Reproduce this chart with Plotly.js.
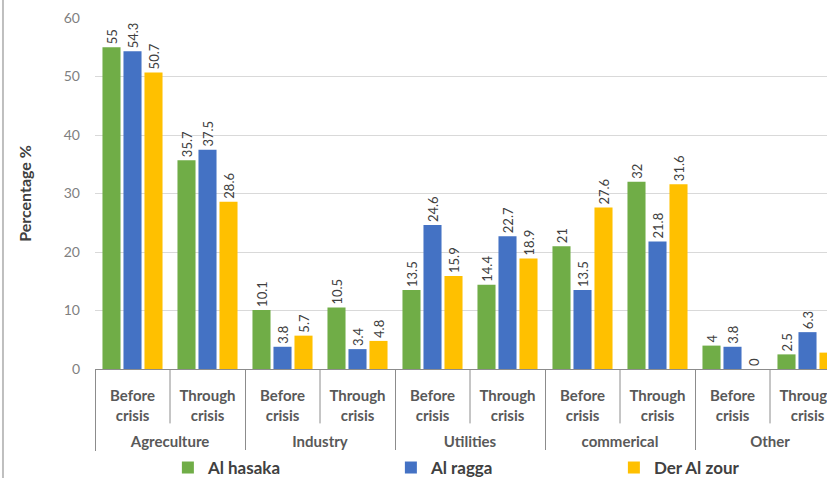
<!DOCTYPE html>
<html>
<head>
<meta charset="utf-8">
<script src="https://cdn.plot.ly/plotly-3.0.1.min.js"></script>
<style>
  html, body { margin: 0; padding: 0; background: #fff; }
  #chart { width: 827px; height: 478px; }
</style>
</head>
<body>
<div id="chart"></div>
<script>
// Sectors and periods (two-level category axis)
const sectors = ["Agreculture", "Industry", "Utilities", "commerical", "Other"];
const periods = ["Before<br>crisis", "Through<br>crisis"];

// Share of workforce by sector, percent
const alHasaka   = [55, 35.7, 10.1, 10.5, 13.5, 14.4, 21, 32, 4, 2.5];
const alRagga    = [54.3, 37.5, 3.8, 3.4, 24.6, 22.7, 13.5, 21.8, 3.8, 6.3];
const derAlZour  = [50.7, 28.6, 5.7, 4.8, 15.9, 18.9, 27.6, 31.6, 0, 2.8];

const seriesNames  = ["Al hasaka", "Al ragga", "Der Al zour"];
const seriesColors = ["#70AD47", "#4472C4", "#FFC000"];

// Build the two-level x coordinates; sector names sit one line lower
const xOuter = [], xInner = [];
sectors.forEach(s => periods.forEach(p => { xOuter.push("<br>" + s); xInner.push(p); }));

const font = "Lato, 'Open Sans', sans-serif";

const traces = [alHasaka, alRagga, derAlZour].map((vals, i) => ({
  type: "bar",
  name: seriesNames[i],
  x: [xOuter, xInner],
  y: vals,
  marker: { color: seriesColors[i] },
  text: vals.map(v => String(v)),
  textposition: "outside",
  textangle: -90,
  constraintext: "none",
  cliponaxis: false,
  textfont: { family: font, size: 13, color: "#404040" },
  hoverinfo: "skip"
}));

// Boundary lines between the period labels under the axis
const nCats = xOuter.length;
const shapes = [];
for (let k = 0; k < nCats - 1; k += 2) {
  shapes.push({
    type: "line", xref: "x", yref: "paper",
    x0: k + 0.5, x1: k + 0.5, y0: 0, y1: -0.155,
    line: { color: "#8c8c8c", width: 1 }
  });
}
// Frame line along the left edge
shapes.push({
  type: "line", xref: "paper", yref: "paper",
  x0: -0.1257, x1: -0.1257, y0: -0.32, y1: 1.06,
  line: { color: "#bfbfbf", width: 2 }
});

const layout = {
  width: 827,
  height: 478,
  margin: { l: 95, r: 0, t: 18, b: 109 },
  paper_bgcolor: "#ffffff",
  plot_bgcolor: "#ffffff",
  barmode: "group",
  bargap: 0.16,
  bargroupgap: 0.14,
  showlegend: true,
  legend: {
    orientation: "h",
    xref: "container", yref: "container",
    x: 0.203, xanchor: "left",
    y: 0.021, yanchor: "middle",
    entrywidth: 178, entrywidthmode: "pixels",
    font: { family: font, size: 17, color: "#404040", weight: "bold" },
    itemwidth: 30,
    tracegroupgap: 0
  },
  xaxis: {
    type: "multicategory",
    range: [-0.5, 9.26],
    automargin: false,
    showline: true,
    linecolor: "#8c8c8c",
    linewidth: 1,
    ticks: "",
    ticklabelstandoff: 13,
    showdividers: true,
    dividercolor: "#8c8c8c",
    dividerwidth: 1,
    tickfont: { family: font, size: 15, color: "#595959", weight: "bold" },
    showgrid: false,
    zeroline: false,
    fixedrange: true
  },
  yaxis: {
    range: [0, 60],
    dtick: 10,
    automargin: true,
    showgrid: true,
    gridcolor: "#d9d9d9",
    gridwidth: 1,
    zeroline: false,
    showline: false,
    ticks: "",
    ticklabelstandoff: 14,
    tickfont: { family: font, size: 14, color: "#7f7f7f" },
    title: { text: "Percentage %", font: { family: font, size: 16, color: "#404040", weight: "bold" }, standoff: 28 },
    fixedrange: true
  },
  shapes: shapes,
  font: { family: font }
};

Plotly.newPlot("chart", traces, layout, { displayModeBar: false, staticPlot: true });
</script>
</body>
</html>
